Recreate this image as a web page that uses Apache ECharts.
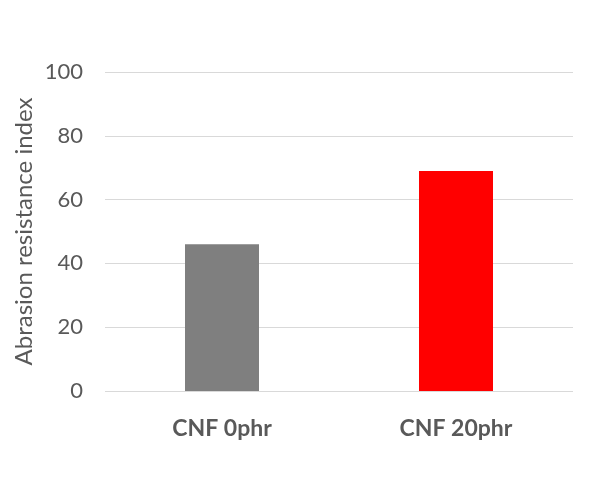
<!DOCTYPE html>
<html lang="en">
<head>
    <meta charset="utf-8" />
    <script src="https://cdn.jsdelivr.net/npm/echarts@6/dist/echarts.min.js"></script>
    <style>
        html, body { margin: 0; padding: 0; background: #fff; }
        #view1 { width: 604px; height: 496px; }
    </style>
</head>
<body>

<div id="view1"></div>

<script>
    // data
    var categories = ["CNF 0phr", "CNF 20phr"];
    var values = [46, 69];
    var barColors = ["#7f7f7f", "#ff0000"];
    var yTicks = [0, 20, 40, 60, 80, 100];

    window.onload = function(){
        var chart = echarts.init(document.getElementById("view1"));
        var option = {
            animation: false,
            grid: { left: 105, right: 31, top: 72, bottom: 105 },
            xAxis: {
                type: "category",
                data: categories,
                axisLine: { show: false },
                axisTick: { show: false },
                axisLabel: {
                    margin: 26,
                    fontFamily: "Lato",
                    fontWeight: "bold",
                    fontSize: 23,
                    color: "#595959"
                }
            },
            yAxis: {
                type: "value",
                min: yTicks[0],
                max: yTicks[yTicks.length - 1],
                interval: 20,
                name: "Abrasion resistance index",
                nameLocation: "middle",
                nameGap: 69,
                nameMoveOverlap: false,
                nameTextStyle: { fontFamily: "Lato", fontSize: 24, color: "#595959" },
                axisLine: { show: false },
                axisTick: { show: false },
                axisLabel: { margin: 22, fontFamily: "Lato", fontSize: 22, color: "#595959" },
                splitLine: { lineStyle: { color: "#d9d9d9", width: 1 } }
            },
            series: [{
                type: "bar",
                barWidth: 74,
                data: values.map(function(v, i){
                    return { value: v, itemStyle: { color: barColors[i] } };
                })
            }]
        };
        chart.setOption(option);
    };
</script>

</body>
</html>
